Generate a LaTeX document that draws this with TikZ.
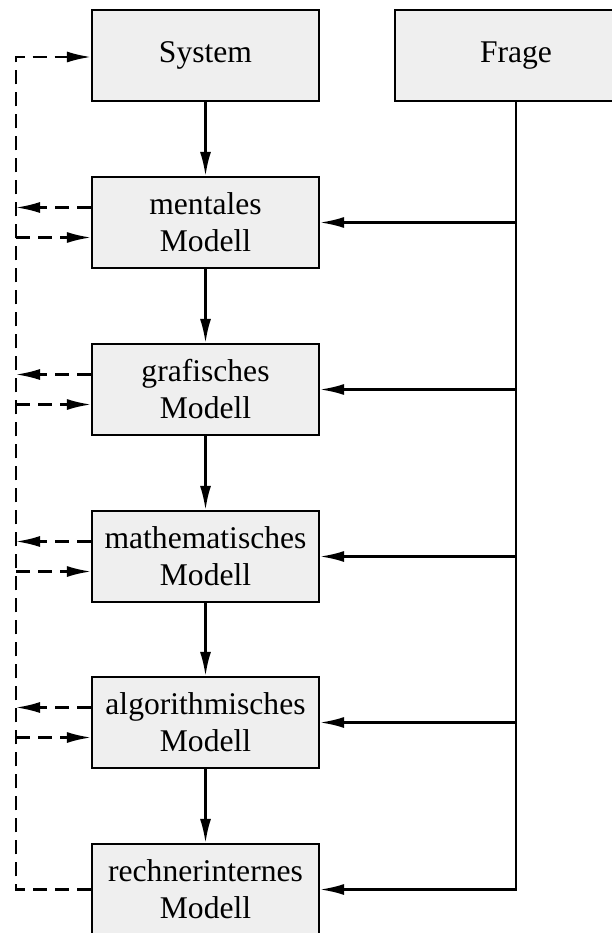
\documentclass[tikz,border=0pt]{standalone}
\usepackage{fontspec}
\setmainfont{Liberation Serif}
\usetikzlibrary{arrows.meta,calc}
\definecolor{boxfill}{HTML}{EFEFEF}
\begin{document}
\begin{tikzpicture}[x=1pt,y=-1pt,
  modelbox/.style={draw, line width=2.2pt, fill=boxfill, minimum width=227pt,
    minimum height=91pt, align=center, inner sep=0pt,
    font=\fontsize{31.6}{37}\selectfont},
  tip/.style={-{Latex[length=24pt,width=11pt]}},
  conn/.style={line width=2.2pt, tip},
  fb/.style={line width=2.2pt, dash pattern=on 14pt off 8pt},
  fbarrow/.style={fb, tip}]
\useasboundingbox (0,0) rectangle (612,933);
\clip (0,0) rectangle (612,933);

% model chain
\node[modelbox] (sys) at (205.5,55.5) {System};
\node[modelbox] (men) at (205.5,222.5) {mentales\\Modell};
\node[modelbox] (gra) at (205.5,389.5) {grafisches\\Modell};
\node[modelbox] (mat) at (205.5,556.5) {mathematisches\\Modell};
\node[modelbox] (alg) at (205.5,722.5) {algorithmisches\\Modell};
\node[modelbox] (rec) at (205.5,889.5) {rechnerinternes\\Modell};
\node[modelbox, minimum width=242pt] (fra) at (516,55.5) {Frage};

\draw[conn] (sys) -- (men);
\draw[conn] (men) -- (gra);
\draw[conn] (gra) -- (mat);
\draw[conn] (mat) -- (alg);
\draw[conn] (alg) -- (rec);

% question feeds every model
\draw[conn] (fra.south) -- (fra.south |- rec.east) -- (rec.east);
\foreach \m in {men,gra,mat,alg}
  \draw[conn] (fra.south |- \m.east) -- (\m.east);

% feedback rail on the left
\coordinate (railtop) at (16,57);
\coordinate (railbot) at (16,889.5);
\draw[fbarrow] (railbot -| rec.west) -- (railbot) -- (railtop) -- (railtop -| sys.west);
\foreach \m in {men,gra,mat,alg}{
  \draw[fbarrow] ($(\m.west)+(0,-15)$) -- ($(railtop |- \m.west)+(0,-15)$);
  \draw[fbarrow] ($(railtop |- \m.west)+(0,15)$) -- ($(\m.west)+(0,15)$);
}
\end{tikzpicture}
\end{document}
